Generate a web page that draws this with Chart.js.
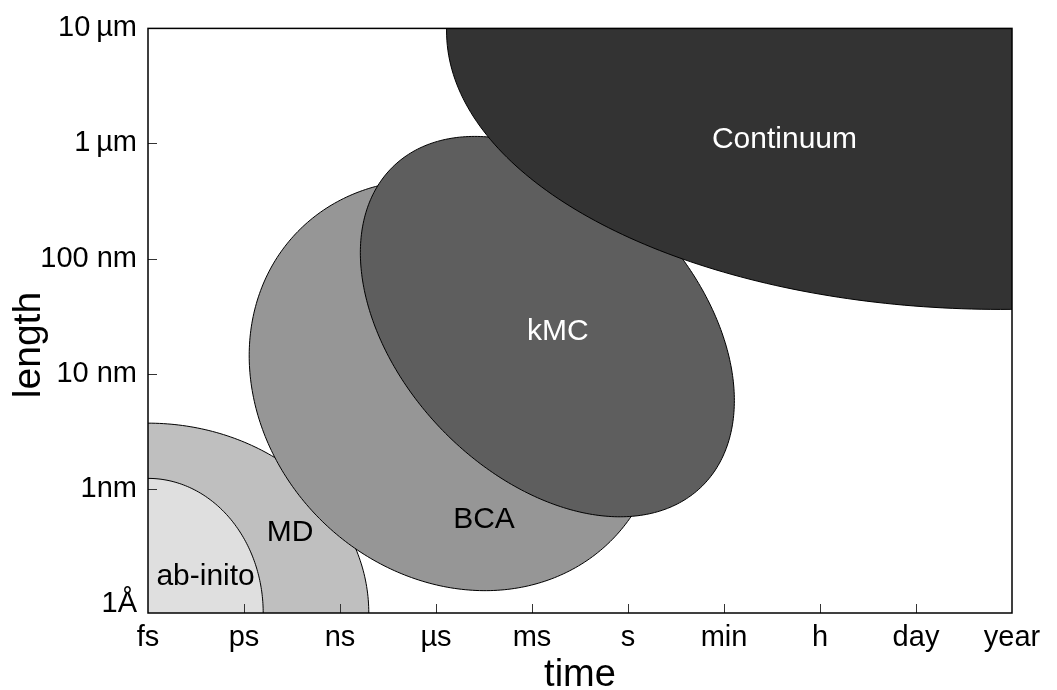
<!DOCTYPE html>
<html>
<head>
<meta charset="utf-8">
<title>Simulation methods: time and length scales</title>
<script src="https://cdn.jsdelivr.net/npm/chart.js@4.4.1/dist/chart.umd.min.js"></script>
<style>
  body { margin: 0; background: #fff; }
  #wrap { width: 1057px; height: 690px; }
</style>
</head>
<body>
<div id="wrap"><canvas id="scales"></canvas></div>
<script>
// time axis: one step per category
const timeLabels = ['fs', 'ps', 'ns', 'µs', 'ms', 's', 'min', 'h', 'day', 'year'];

// length axis, values in nm
const lengthTicks = [0.1, 1, 10, 100, 1000, 10000];
const lengthLabels = ['1Å', '1nm', '10 nm', '100 nm', '1\u2009µm', '10\u2009µm'];
const lengthMin = 0.083;
const lengthMax = 10000;

// method regions, back to front
// centre in (time step, nm), semi-axes in time steps / length decades, tilt in degrees
const methodNames = ['MD', 'ab-inito', 'BCA', 'kMC', 'Continuum'];
const centerTime = [0, 0, 3.2, 4.16, 8.88];
const centerLength = [0.083, 0.083, 7.9, 25.6, 9500];
const semiA = [2.3, 1.2, 2.19, 2.15, 5.77];
const semiB = [1.65, 1.17, 1.73, 1.38, 2.42];
const tilt = [0, 0, -19, -33.5, 0];

// where each method name sits (time step, nm)
const labelTime = [1.48, 0.6, 3.5, 4.27, 6.63];
const labelLength = [0.41, 0.17, 0.54, 23, 1070];

const FONT = '"Liberation Sans", Arial, sans-serif';
const regionFill = {
  'MD': '#bfbfbf',
  'ab-inito': '#dfdfdf',
  'BCA': '#969696',
  'kMC': '#5e5e5e',
  'Continuum': '#333333'
};
const labelColor = {
  'MD': '#000', 'ab-inito': '#000', 'BCA': '#000', 'kMC': '#fff', 'Continuum': '#fff'
};

const regionPlugin = {
  id: 'regions',
  beforeDatasetsDraw(chart) {
    const { ctx, chartArea: area, scales: { x, y } } = chart;
    ctx.save();
    ctx.beginPath();
    ctx.rect(area.left, area.top, area.right - area.left, area.bottom - area.top);
    ctx.clip();

    methodNames.forEach((name, i) => {
      const phi = tilt[i] * Math.PI / 180;
      const logC = Math.log10(centerLength[i]);
      ctx.beginPath();
      for (let k = 0; k <= 360; k++) {
        const t = k * Math.PI / 180;
        const u = semiA[i] * Math.cos(t);
        const v = semiB[i] * Math.sin(t);
        const tx = centerTime[i] + u * Math.cos(phi) - v * Math.sin(phi);
        const ly = logC + u * Math.sin(phi) + v * Math.cos(phi);
        const px = x.getPixelForValue(tx);
        const py = y.getPixelForValue(Math.pow(10, ly));
        if (k === 0) ctx.moveTo(px, py); else ctx.lineTo(px, py);
      }
      ctx.closePath();
      ctx.fillStyle = regionFill[name];
      ctx.fill();
      ctx.strokeStyle = '#000';
      ctx.lineWidth = 1;
      ctx.stroke();
    });

    ctx.font = '30px ' + FONT;
    ctx.textAlign = 'center';
    ctx.textBaseline = 'middle';
    methodNames.forEach((name, i) => {
      ctx.fillStyle = labelColor[name];
      ctx.fillText(name, x.getPixelForValue(labelTime[i]), y.getPixelForValue(labelLength[i]));
    });
    ctx.restore();
  },
  afterDraw(chart) {
    const { ctx, chartArea: area, scales: { x, y } } = chart;
    ctx.save();

    // inward tick marks
    ctx.strokeStyle = '#333';
    ctx.lineWidth = 1;
    ctx.beginPath();
    for (let i = 1; i < timeLabels.length - 1; i++) {
      const px = Math.round(x.getPixelForValue(i)) + 0.5;
      ctx.moveTo(px, area.bottom);
      ctx.lineTo(px, area.bottom - 9);
    }
    for (let i = 1; i < lengthTicks.length - 1; i++) {
      const py = Math.round(y.getPixelForValue(lengthTicks[i])) + 0.5;
      ctx.moveTo(area.left, py);
      ctx.lineTo(area.left + 9, py);
    }
    ctx.stroke();

    // frame
    ctx.strokeStyle = '#000';
    ctx.lineWidth = 1.5;
    ctx.strokeRect(area.left, area.top, area.right - area.left, area.bottom - area.top);

    // axis titles
    ctx.fillStyle = '#000';
    ctx.font = '38px ' + FONT;
    ctx.textAlign = 'center';
    ctx.textBaseline = 'alphabetic';
    ctx.fillText('time', (area.left + area.right) / 2, 686);

    ctx.translate(40, 345);
    ctx.rotate(-Math.PI / 2);
    ctx.font = '39px ' + FONT;
    ctx.fillText('length', 0, 0);
    ctx.restore();
  }
};

new Chart(document.getElementById('scales'), {
  type: 'scatter',
  data: { datasets: [] },
  options: {
    responsive: true,
    maintainAspectRatio: false,
    animation: false,
    layout: { padding: { top: 27, right: 45, left: 0, bottom: 0 } },
    plugins: { legend: { display: false }, tooltip: { enabled: false } },
    scales: {
      x: {
        type: 'linear',
        min: 0,
        max: timeLabels.length - 1,
        grid: { display: false, drawTicks: false },
        border: { display: false },
        afterBuildTicks: scale => {
          scale.ticks = timeLabels.map((_, i) => ({ value: i }));
        },
        afterFit: scale => { scale.height = 77; },
        ticks: {
          autoSkip: false,
          maxRotation: 0,
          padding: 8,
          color: '#000',
          font: { family: FONT, size: 29 },
          callback: value => timeLabels[value]
        }
      },
      y: {
        type: 'logarithmic',
        min: lengthMin,
        max: lengthMax,
        grid: { display: false, drawTicks: false },
        border: { display: false },
        afterBuildTicks: scale => {
          scale.ticks = lengthTicks.map(v => ({ value: v }));
        },
        afterFit: scale => { scale.width = 148; },
        ticks: {
          autoSkip: false,
          padding: 11,
          color: '#000',
          font: { family: FONT, size: 29 },
          callback: value => lengthLabels[lengthTicks.indexOf(value)]
        }
      }
    }
  },
  plugins: [regionPlugin]
});
</script>
</body>
</html>
